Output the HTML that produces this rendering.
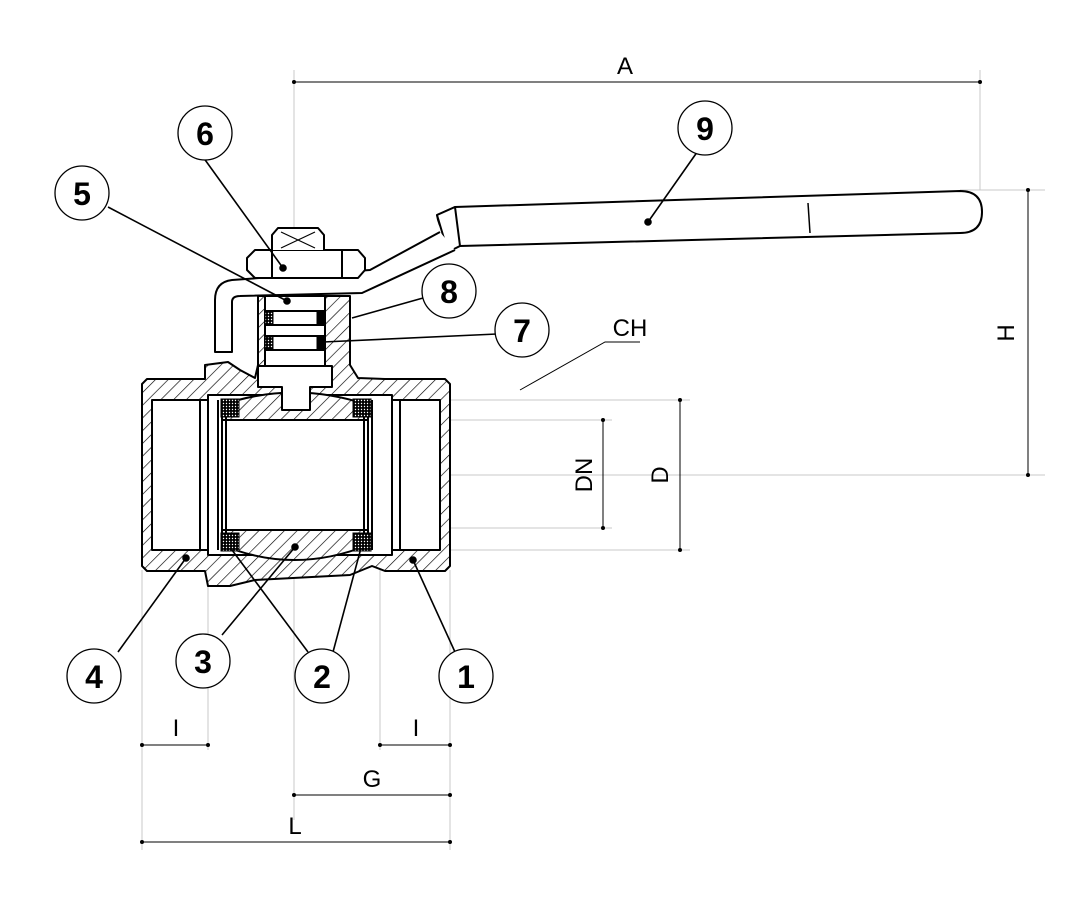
<!DOCTYPE html>
<html><head><meta charset="utf-8"><style>
html,body{margin:0;padding:0;background:#fff;}
svg{display:block}
.n{font-family:"Liberation Sans",sans-serif;font-size:32px;font-weight:bold;text-anchor:middle}
.d{font-family:"Liberation Sans",sans-serif;font-size:24px;text-anchor:middle}
</style></head><body>
<svg width="1083" height="916" viewBox="0 0 1083 916" xmlns="http://www.w3.org/2000/svg">
<defs>
<pattern id="h" patternUnits="userSpaceOnUse" width="9" height="9" patternTransform="rotate(45)">
<rect width="9" height="9" fill="#fff"/><line x1="0" y1="0" x2="0" y2="9" stroke="#000" stroke-width="1.3"/></pattern>
<pattern id="s" patternUnits="userSpaceOnUse" width="3" height="3">
<rect width="3" height="3" fill="#000"/><circle cx="1.5" cy="1.5" r="0.7" fill="#fff"/></pattern>
</defs>
<g stroke="#c8c8c8" stroke-width="1" fill="none">
<line x1="294" y1="70" x2="294" y2="820"/>
<line x1="980" y1="70" x2="980" y2="190"/>
<line x1="960" y1="190" x2="1045" y2="190"/>
<line x1="440" y1="475" x2="1045" y2="475"/>
<line x1="440" y1="400" x2="690" y2="400"/>
<line x1="440" y1="550" x2="690" y2="550"/>
<line x1="380" y1="420" x2="612" y2="420"/>
<line x1="380" y1="528" x2="612" y2="528"/>
<line x1="142" y1="570" x2="142" y2="850"/>
<line x1="450" y1="570" x2="450" y2="850"/>
<line x1="208" y1="570" x2="208" y2="750"/>
<line x1="380" y1="570" x2="380" y2="750"/>
</g>
<g stroke="#000" stroke-width="1" fill="none">
<line x1="294" y1="82" x2="980" y2="82"/>
<line x1="1028" y1="190" x2="1028" y2="475"/>
<line x1="680" y1="400" x2="680" y2="550"/>
<line x1="603" y1="420" x2="603" y2="528"/>
<line x1="142" y1="842" x2="450" y2="842"/>
<line x1="294" y1="795" x2="450" y2="795"/>
<line x1="142" y1="745" x2="208" y2="745"/>
<line x1="380" y1="745" x2="450" y2="745"/>
</g>
<g fill="#000">
<circle cx="294" cy="82" r="2"/><circle cx="980" cy="82" r="2"/>
<circle cx="1028" cy="190" r="2"/><circle cx="1028" cy="475" r="2"/>
<circle cx="680" cy="400" r="2"/><circle cx="680" cy="550" r="2"/>
<circle cx="603" cy="420" r="2"/><circle cx="603" cy="528" r="2"/>
<circle cx="142" cy="842" r="2"/><circle cx="450" cy="842" r="2"/>
<circle cx="294" cy="795" r="2"/><circle cx="450" cy="795" r="2"/>
<circle cx="142" cy="745" r="2"/><circle cx="208" cy="745" r="2"/>
<circle cx="380" cy="745" r="2"/><circle cx="450" cy="745" r="2"/>
</g>
<text class="d" x="625" y="74">A</text>
<text class="d" x="372" y="787">G</text>
<text class="d" x="295" y="834">L</text>
<text class="d" x="176" y="736">I</text>
<text class="d" x="416" y="736">I</text>
<text class="d" x="630" y="336">CH</text>
<text class="d" transform="translate(1014,333) rotate(-90)">H</text>
<text class="d" transform="translate(668,475) rotate(-90)">D</text>
<text class="d" transform="translate(592,475) rotate(-90)">DN</text>
<polyline points="520,390 605,342 640,342" stroke="#000" fill="none" stroke-width="1"/>

<g stroke="#000" stroke-width="2" stroke-linejoin="round">
<path d="M437,215 L455,207 L960,191 Q982,191 982,212 Q982,233 960,233 L460,246 Q440,235 437,215 Z" fill="#fff"/>
<path d="M437,215 L455,207 L460,246 L448,252 Z" fill="#fff"/>
<path d="M440,232 L370,270 L232,280 Q215,282 215,300 L215,352 L232,352 L232,302 Q232,296 240,296 L362,293 L455,250" fill="#fff"/>
<path d="M247,258 L255,250 L358,250 L365,258 L365,270 L358,278 L255,278 L247,270 Z" fill="#fff"/>
<line x1="272" y1="250" x2="272" y2="278"/><line x1="342" y1="250" x2="342" y2="278"/>
<path d="M272,250 L272,235 L278,228 L318,228 L324,235 L324,250" fill="#fff"/>
<line x1="281" y1="232" x2="315" y2="248" stroke-width="1.2"/><line x1="315" y1="232" x2="281" y2="248" stroke-width="1.2"/>
<path d="M142,384 L147,379 L205,379 L205,365 L228,362 L240,370 L255,378 L258,365 L258,296 L350,296 L350,365 L358,378 L385,379 L445,379 L450,384 L450,566 L445,571 L385,571 L372,566 L350,575 L255,580 L230,586 L208,586 L205,571 L147,571 L142,566 Z" fill="url(#h)"/>
<rect x="152" y="400" width="56" height="150" fill="#fff"/>
<rect x="392" y="400" width="48" height="150" fill="#fff"/>
<line x1="200" y1="400" x2="200" y2="550"/><line x1="400" y1="400" x2="400" y2="550"/>
<rect x="208" y="395" width="184" height="160" fill="#fff"/>
<rect x="265" y="296" width="60" height="70" fill="#fff"/>
<path d="M222,420 L222,405 Q294,380 368,405 L368,420 Z" fill="url(#h)"/>
<path d="M222,530 L368,530 L368,545 Q294,575 222,545 Z" fill="url(#h)"/>
<rect x="222" y="420" width="146" height="110" fill="#fff"/>
<line x1="218" y1="400" x2="218" y2="550"/><line x1="226" y1="400" x2="226" y2="550"/>
<line x1="364" y1="400" x2="364" y2="550"/><line x1="372" y1="400" x2="372" y2="550"/>
<path d="M258,366 L332,366 L332,387 L310,387 L310,410 L282,410 L282,387 L258,387 Z" fill="#fff"/>
<rect x="265" y="311" width="60" height="14" fill="#fff"/>
<rect x="265" y="336" width="60" height="14" fill="#fff"/>
</g>
<g stroke="#000" stroke-width="1">
<rect x="265" y="312" width="8" height="12" fill="url(#s)"/><rect x="317" y="312" width="8" height="12" fill="#000"/>
<rect x="265" y="337" width="8" height="12" fill="url(#s)"/><rect x="317" y="337" width="8" height="12" fill="#000"/>
<rect x="221" y="399" width="18" height="18" fill="url(#s)"/><rect x="353" y="399" width="18" height="18" fill="url(#s)"/>
<rect x="221" y="533" width="18" height="18" fill="url(#s)"/><rect x="353" y="533" width="18" height="18" fill="url(#s)"/>
</g>
<g stroke="#000" stroke-width="1.6" fill="#000">
<line x1="203" y1="157" x2="283" y2="268"/><circle cx="283" cy="268" r="3"/>
<line x1="108" y1="207" x2="287" y2="301"/><circle cx="287" cy="301" r="3"/>
<line x1="423" y1="298" x2="352" y2="318"/>
<line x1="497" y1="334" x2="323" y2="342"/>
<line x1="700" y1="148" x2="648" y2="222"/><circle cx="648" cy="222" r="3"/>
<line x1="118" y1="652" x2="186" y2="558"/><circle cx="186" cy="558" r="3"/>
<line x1="222" y1="635" x2="295" y2="547"/><circle cx="295" cy="547" r="3"/>
<line x1="308" y1="652" x2="232" y2="550"/>
<line x1="333" y1="652" x2="361" y2="548"/>
<line x1="455" y1="652" x2="413" y2="560"/><circle cx="413" cy="560" r="3"/>
</g>
<g stroke="#000" stroke-width="1.3" fill="#fff">
<circle cx="205" cy="133" r="27"/><circle cx="82" cy="193" r="27"/>
<circle cx="449" cy="291" r="27"/><circle cx="522" cy="330" r="27"/>
<circle cx="705" cy="128" r="27"/>
<circle cx="94" cy="676" r="27"/><circle cx="203" cy="661" r="27"/>
<circle cx="322" cy="676" r="27"/><circle cx="466" cy="676" r="27"/>
</g>
<g class="n">
<text x="205" y="145">6</text><text x="82" y="205">5</text>
<text x="449" y="303">8</text><text x="522" y="342">7</text>
<text x="705" y="140">9</text>
<text x="94" y="688">4</text><text x="203" y="673">3</text>
<text x="322" y="688">2</text><text x="466" y="688">1</text>
</g>
<line x1="808" y1="203" x2="810" y2="233" stroke="#000" stroke-width="1.5"/>
</svg>
</body></html>
